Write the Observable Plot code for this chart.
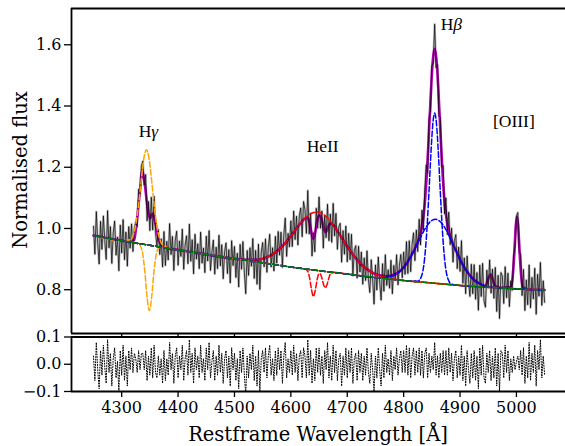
<!DOCTYPE html>
<html><head><meta charset="utf-8">
<script src="https://cdn.jsdelivr.net/npm/d3@7"></script>
<script src="https://cdn.jsdelivr.net/npm/@observablehq/plot@0.6"></script>
<style>
html,body{margin:0;padding:0;background:#fff;}
#chart{position:relative;width:565px;height:446px;overflow:hidden;background:#fff;}
#chart svg{position:absolute;left:0;overflow:visible;}
</style></head><body><div id="chart"></div>
<script>
// ---------- data ----------
const xTicks = [4300, 4400, 4500, 4600, 4700, 4800, 4900, 5000];
const yTicksTop = [0.8, 1.0, 1.2, 1.4, 1.6];
const yTicksRes = [-0.1, 0.0, 0.1];

// observed spectrum, 2.5 A steps starting at 4250 A
const fluxStart = 4250, fluxStep = 2.5;
const flux = [
1.007,0.916,1.055,0.954,0.884,1.023,0.932,1.041,0.960,0.899,
1.058,0.937,1.006,0.886,0.985,1.024,0.913,0.972,0.862,1.011,
0.920,1.029,0.898,0.988,0.877,1.006,0.936,1.015,0.925,1.002,
1.021,1.006,1.128,1.107,1.205,1.220,1.142,1.176,1.025,1.088,
0.993,1.102,0.995,1.105,0.986,0.944,0.997,0.915,0.966,0.874,
0.990,0.879,0.958,0.897,1.016,0.915,0.974,0.863,0.962,0.991,
0.880,0.959,0.909,0.998,0.867,0.946,0.976,0.885,1.014,0.893,
0.963,0.852,0.981,0.900,0.950,0.869,0.988,0.887,0.936,0.856,
0.975,0.894,0.993,0.863,0.923,0.962,0.851,0.939,0.869,0.978,
0.878,0.947,0.836,0.924,0.953,0.853,0.931,0.822,0.960,0.879,
0.941,0.840,0.919,0.809,0.948,0.867,0.957,0.856,0.787,0.928,
0.847,0.937,0.877,0.967,0.837,0.928,0.818,0.949,0.801,0.923,
0.954,0.875,0.966,0.857,0.938,0.981,0.874,0.937,0.861,0.974,
0.887,0.990,0.913,0.988,0.873,0.979,1.034,0.909,0.984,0.940,
1.025,0.941,1.057,0.964,1.040,0.946,1.042,1.067,0.973,1.088,
1.062,0.984,1.124,0.982,1.050,0.910,0.986,0.924,1.066,1.001,
1.103,1.001,1.057,0.936,1.041,0.970,1.079,0.960,1.047,0.955,
1.082,0.976,1.049,0.932,1.005,1.017,0.890,0.993,0.916,1.008,
0.891,0.984,0.898,0.981,0.845,0.929,0.944,0.838,0.942,0.858,
0.923,0.818,0.904,0.830,0.927,0.834,0.791,0.898,0.836,0.753,
0.881,0.799,0.907,0.826,0.766,0.885,0.795,0.914,0.814,0.865,
0.805,0.896,0.787,0.879,0.831,0.914,0.816,0.880,0.915,0.839,
0.923,0.850,0.957,0.853,0.960,0.859,0.948,0.986,0.895,0.995,
0.925,1.030,0.946,1.060,0.995,1.125,1.208,1.180,1.358,1.383,
1.530,1.543,1.667,1.525,1.535,1.368,1.363,1.201,1.205,1.048,
1.100,0.980,1.053,0.947,1.001,0.890,0.960,0.980,0.869,0.939,
0.860,0.960,0.821,0.904,0.787,0.910,0.833,0.778,0.883,0.787,
0.882,0.769,0.856,0.733,0.880,0.778,0.886,0.764,0.743,0.864,
0.805,0.897,0.789,0.867,0.772,0.873,0.729,0.847,0.706,0.856,
0.845,0.755,0.875,0.774,0.854,0.745,0.829,0.798,0.910,0.943,
1.041,1.052,0.925,0.915,0.781,0.866,0.732,0.832,0.751,0.881,
0.741,0.840,0.770,0.870,0.720,0.850,0.779,0.889,0.749,0.829,0.759
];
// residuals (same wavelength grid)
const resid = [
0.03,-0.06,0.08,-0.02,-0.09,0.05,-0.04,0.07,-0.01,-0.07,
0.09,-0.03,0.04,-0.08,0.02,0.06,-0.05,0.01,-0.10,0.05,
-0.04,0.07,-0.06,0.03,-0.08,0.05,-0.02,0.06,-0.03,0.04,
0.02,-0.03,0.05,-0.02,0.04,0.04,-0.02,0.05,-0.06,0.03,
-0.04,0.06,-0.05,0.07,-0.03,-0.05,0.03,-0.04,0.02,-0.07,
0.05,-0.06,0.02,-0.04,0.08,-0.02,0.04,-0.07,0.03,0.06,
-0.05,0.03,-0.02,0.07,-0.06,0.02,0.05,-0.04,0.09,-0.03,
0.04,-0.07,0.06,-0.02,0.03,-0.05,0.07,-0.03,0.02,-0.06,
0.06,-0.02,0.08,-0.05,0.01,0.05,-0.06,0.03,-0.04,0.07,
-0.03,0.04,-0.07,0.02,0.05,-0.05,0.03,-0.08,0.06,-0.02,
0.04,-0.06,0.02,-0.09,0.05,-0.03,0.06,-0.04,-0.11,0.03,
-0.05,0.04,-0.02,0.07,-0.06,0.03,-0.08,0.05,-0.10,0.02,
0.05,-0.03,0.06,-0.05,0.03,0.07,-0.04,0.02,-0.06,0.05,
-0.04,0.06,-0.02,0.05,-0.07,0.03,0.08,-0.05,0.02,-0.03,
0.05,-0.04,0.07,-0.03,0.04,-0.06,0.03,0.05,-0.05,0.06,
0.03,-0.05,0.09,-0.04,0.05,-0.07,0.02,-0.06,0.06,-0.03,
0.06,-0.04,0.03,-0.07,0.05,-0.02,0.08,-0.05,0.03,-0.06,
0.07,-0.03,0.05,-0.06,0.02,0.04,-0.08,0.03,-0.04,0.06,
-0.05,0.05,-0.03,0.06,-0.07,0.02,0.04,-0.06,0.05,-0.03,
0.04,-0.06,0.03,-0.04,0.06,-0.03,-0.07,0.04,-0.02,-0.10,
0.03,-0.05,0.06,-0.02,-0.08,0.04,-0.05,0.07,-0.03,0.02,
-0.04,0.05,-0.06,0.03,-0.02,0.06,-0.04,0.02,0.05,-0.03,
0.05,-0.03,0.07,-0.04,0.06,-0.05,0.03,0.06,-0.04,0.05,
-0.03,0.06,-0.04,0.05,-0.05,0.04,0.06,-0.05,0.04,-0.03,
0.03,-0.02,0.08,-0.04,0.03,-0.05,0.04,-0.03,0.05,-0.04,
0.05,-0.04,0.06,-0.03,0.04,-0.06,0.02,0.05,-0.05,0.03,
-0.04,0.07,-0.06,0.03,-0.08,0.05,-0.02,-0.07,0.04,-0.05,
0.05,-0.06,0.03,-0.09,0.06,-0.04,0.07,-0.05,-0.07,0.04,
-0.03,0.05,-0.06,0.03,-0.05,0.06,-0.08,0.04,-0.10,0.05,
0.04,-0.05,0.07,-0.03,0.05,-0.06,0.02,-0.03,0.03,-0.02,
0.01,0.03,-0.02,0.05,-0.04,0.06,-0.07,0.03,-0.05,0.08,
-0.06,0.04,-0.03,0.07,-0.08,0.05,-0.02,0.09,-0.05,0.03,-0.04
];

// total fit (magenta)
const fitW = [4250,4270,4290,4305,4316,4322,4327,4333,4336,4340,4345,4350,4355,4360,4366,4372,4380,4400,4450,4500,
4520,4540,4560,4580,4600,4610,4620,4626,4630,4633,4636,4640,4644,4647,4650,4652,4655,4658,4661,4664,4667,4670,4675,4680,
4690,4700,4710,4720,4730,4740,4750,4760,4770,4780,4790,4800,4810,4820,4825,4831,4837,4841,4845,4849,4852,4855,4858,4861,
4865,4869,4873,4879,4885,4895,4905,4915,4925,4935,4945,4950,4954,4958,4962,4970,4990,4993,4996,4999,5001,5003,5006,5009,
5012,5020,5035,5050];
const fitF = [0.977,0.970,0.963,0.959,0.956,0.962,1.027,1.136,1.190,1.158,1.082,1.033,1.049,1.016,0.962,0.944,0.937,0.930,0.915,0.901,
0.898,0.898,0.908,0.933,0.975,1.000,1.023,1.034,1.034,1.020,0.991,0.966,0.996,1.028,1.043,1.042,1.027,1.003,0.988,0.994,1.009,1.017,1.012,0.999,
0.970,0.941,0.915,0.892,0.874,0.861,0.851,0.846,0.844,0.847,0.856,0.873,0.900,0.935,0.955,0.992,1.072,1.174,1.318,1.470,1.555,1.587,1.556,1.473,
1.323,1.180,1.078,0.999,0.961,0.919,0.881,0.853,0.832,0.820,0.813,0.835,0.850,0.833,0.813,0.806,0.809,0.836,0.911,1.011,1.038,1.010,0.910,0.834,
0.807,0.801,0.800,0.799];

// continuum (green)
const contW = [4250,4300,4350,4400,4450,4500,4550,4600,4650,4700,4750,4800,4850,4900,4950,5000,5050];
const contF = [0.977,0.960,0.945,0.930,0.915,0.901,0.888,0.874,0.862,0.851,0.840,0.830,0.822,0.814,0.808,0.803,0.799];

// H-gamma components (orange)
const hgEmW = [4316,4320,4324,4328,4332,4336,4340,4344,4348,4352,4356,4360,4364,4368,4372];
const hgEmF = [0.964,0.977,1.004,1.049,1.111,1.181,1.236,1.257,1.234,1.176,1.104,1.039,0.992,0.963,0.947];
const hgAbW = [4329,4333,4337,4341,4345,4349,4353,4357,4361,4365,4369];
const hgAbF = [0.951,0.944,0.920,0.860,0.776,0.732,0.773,0.855,0.913,0.935,0.939];

// HeII components (red)
const heBrW = [4520,4540,4560,4580,4600,4620,4640,4648,4660,4680,4700,4720,4740,4760,4780];
const heBrF = [0.898,0.898,0.908,0.933,0.975,1.023,1.052,1.054,1.043,0.999,0.941,0.892,0.861,0.844,0.836];
const heAbW = [4626,4630,4633,4636,4640,4644,4647,4650,4652,4655,4658,4661,4664,4667,4670,4675];
const heAbF = [0.867,0.860,0.840,0.807,0.778,0.805,0.837,0.852,0.852,0.838,0.817,0.806,0.816,0.836,0.851,0.857];

// H-beta components (blue)
const hbBrW = [4756,4776,4796,4811,4826,4841,4849,4857,4865,4873,4888,4903,4918,4938,4958];
const hbBrF = [0.839,0.843,0.864,0.902,0.956,1.008,1.025,1.030,1.022,1.003,0.946,0.888,0.845,0.817,0.808];
const hbNaW = [4825,4831,4837,4841,4845,4849,4852,4855,4858,4861,4865,4869,4873,4879,4885];
const hbNaF = [0.828,0.841,0.899,0.989,1.123,1.267,1.347,1.377,1.347,1.265,1.119,0.985,0.893,0.833,0.818];

// line labels
const lineNames = ["H\u03b3", "HeII", "H\u03b2", "[OIII]"];
const lineNameW = [4347.5, 4656.4, 4884.5, 4995.4];
const lineNameF = [1.3175, 1.268, 1.668, 1.350];

// ---------- build tables ----------
const X_DOMAIN = [4211, 5087];
const Y_TOP = [0.657, 1.7185];
const Y_RES = [-0.1, 0.1];
const fluxData = flux.map((f, i) => ({w: fluxStart + fluxStep * i, f}));
const resData = resid.map((r, i) => ({w: fluxStart + fluxStep * i, r}));
const pairs = (W, F) => W.map((w, i) => ({w, f: F[i]}));
function withContinuum(W, F) {
  const lo = W[0], hi = W[W.length - 1];
  const pts = pairs(W, F);
  contW.forEach((cw, i) => { if (cw < lo - 8 || cw > hi + 8) pts.push({w: cw, f: contF[i]}); });
  return pts.sort((a, b) => a.w - b.w);
}
const labelData = lineNames.map((t, i) => ({t, w: lineNameW[i], f: lineNameF[i]}));

const dash = "5.5,2.4";
const comp = (W, F, color) => Plot.line(withContinuum(W, F), {x: "w", y: "f", stroke: color, strokeWidth: 1.5, strokeDasharray: dash, curve: "monotone-x"});

const font = "'DejaVu Serif', serif";
const topPlot = Plot.plot({
  width: 565, height: 334,
  marginLeft: 71, marginRight: 0, marginTop: 8, marginBottom: 1,
  x: {domain: X_DOMAIN},
  y: {domain: Y_TOP},
  style: {fontFamily: font, fontSize: "16px", color: "black", background: "transparent", overflow: "visible"},
  marks: [
    Plot.line(fluxData, {x: "w", y: "f", stroke: "#8a8a8a", strokeWidth: 2.4, strokeOpacity: 0.5}),
    Plot.line(pairs(fitW, fitF), {x: "w", y: "f", stroke: "#b000b0", strokeWidth: 2.6, curve: "monotone-x"}),
    Plot.line(fluxData, {x: "w", y: "f", stroke: "black", strokeWidth: 0.7}),
    comp(hgEmW, hgEmF, "#ffa500"),
    comp(hgAbW, hgAbF, "#ffa500"),
    comp(heBrW, heBrF, "#ff0000"),
    comp(heAbW, heAbF, "#ff0000"),
    comp(hbBrW, hbBrF, "#0000ff"),
    comp(hbNaW, hbNaF, "#0000ff"),
    Plot.line(pairs(contW, contF), {x: "w", y: "f", stroke: "#008000", strokeWidth: 1.5, strokeDasharray: dash}),
    Plot.text(labelData, {x: "w", y: "f", text: "t", fontFamily: "'Liberation Serif', serif", fontSize: 17.5, textAnchor: "middle", lineAnchor: "middle", fill: "black"}),
    Plot.axisY({ticks: yTicksTop, tickSize: 7, tickPadding: 3, tickFormat: d3.format(".1f"), label: null, strokeWidth: 1.3}),
    Plot.axisX({ticks: xTicks, tickSize: 4, tickFormat: () => "", label: null, strokeWidth: 1.3}),
    Plot.ruleX([X_DOMAIN[0]], {stroke: "black", strokeWidth: 1.8}),
    Plot.ruleY(Y_TOP, {stroke: "black", strokeWidth: 1.8})
  ]
});

const resPlot = Plot.plot({
  width: 565, height: 112,
  marginLeft: 71, marginRight: 0, marginTop: 2.5, marginBottom: 55,
  x: {domain: X_DOMAIN},
  y: {domain: Y_RES},
  style: {fontFamily: font, fontSize: "16px", color: "black", background: "transparent", overflow: "visible"},
  marks: [
    Plot.line(resData, {x: "w", y: "r", stroke: "black", strokeWidth: 1, strokeDasharray: "1,1.65", clip: true}),
    Plot.axisX({ticks: xTicks, tickSize: 6, tickPadding: 4, tickFormat: d3.format("d"), label: null, strokeWidth: 1.3}),
    Plot.axisY({ticks: yTicksRes, tickSize: 7, tickPadding: 3, tickFormat: d3.format(".1f"), label: null, strokeWidth: 1.3}),
    Plot.ruleX([X_DOMAIN[0]], {stroke: "black", strokeWidth: 1.8}),
    Plot.ruleY(Y_RES, {stroke: "black", strokeWidth: 1.8})
  ]
});

const chart = document.getElementById("chart");
topPlot.style.top = "0px";
resPlot.style.top = "334px";
chart.appendChild(resPlot);
chart.appendChild(topPlot);

// italic greek letters in the line labels
d3.select(topPlot).selectAll("text").each(function () {
  const t = this.textContent;
  if (t === "H\u03b3" || t === "H\u03b2") {
    this.textContent = "H";
    d3.select(this).append("tspan").attr("font-style", "italic").text(t[1]);
  }
});

// axis titles
d3.select(topPlot).append("text")
  .attr("transform", "translate(26.5,170) rotate(-90)")
  .attr("text-anchor", "middle")
  .style("font-family", font).attr("font-size", 19.5).attr("fill", "black")
  .text("Normalised flux");
d3.select(resPlot).append("text")
  .attr("x", 318).attr("y", 107)
  .attr("text-anchor", "middle")
  .style("font-family", font).attr("font-size", 19.5).attr("fill", "black")
  .text("Restframe Wavelength [\u00c5]");
</script></body></html>
